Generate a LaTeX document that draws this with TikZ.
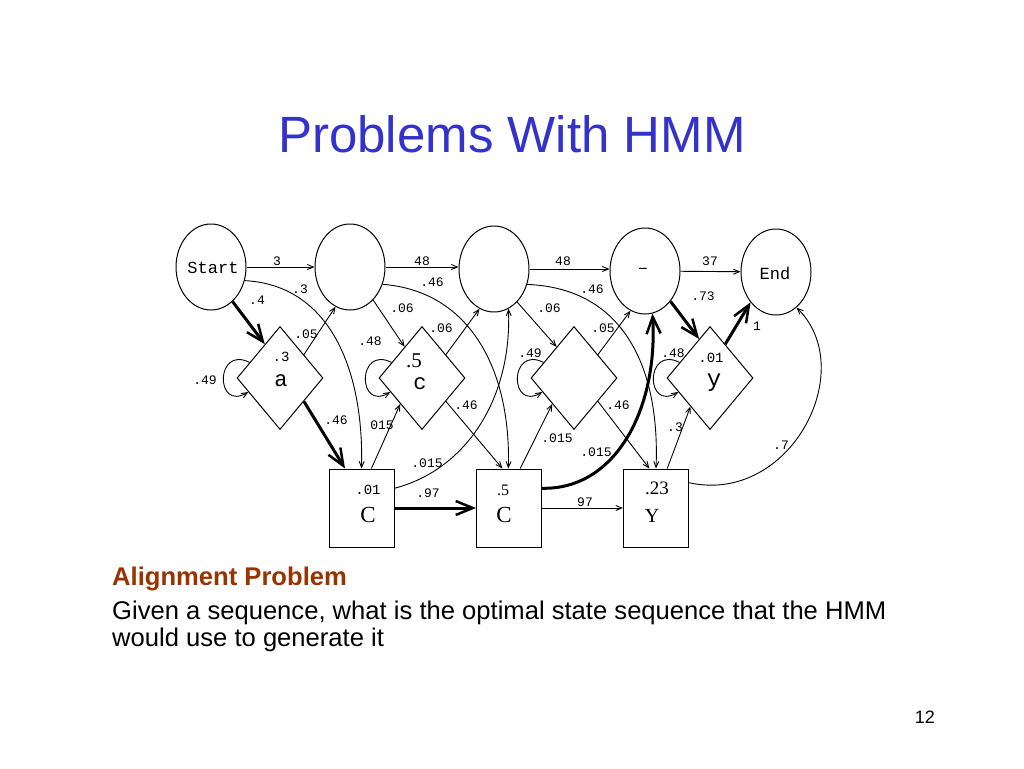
\documentclass[tikz,border=0pt]{standalone}
\usepackage{fontspec}
\setmainfont{Liberation Sans}
\newfontfamily\monof{Liberation Mono}
\newfontfamily\seriff{Liberation Serif}
\usetikzlibrary{shapes.geometric,arrows.meta,calc}
\definecolor{titleblue}{RGB}{51,51,204}
\definecolor{headred}{RGB}{153,51,0}
\begin{document}
\begin{tikzpicture}[x=1pt,y=-1pt,
  state/.style={ellipse,draw,line width=1pt,minimum width=70pt,minimum height=86pt,inner sep=0pt},
  ins/.style={diamond,draw,line width=1pt,minimum width=86pt,minimum height=103pt,inner sep=0pt},
  match/.style={rectangle,draw,line width=1pt,minimum width=65pt,minimum height=78pt,inner sep=0pt},
  thin/.style={line width=0.9pt,-{Straight Barb[length=6pt,width=5pt]}},
  heavy/.style={line width=3pt,-{Straight Barb[length=17pt,width=14pt,line width=2.5pt]}},
  lab/.style={font=\monof\fontsize{13}{13}\selectfont,inner sep=0pt},
  txt/.style={inner sep=0pt},
]
\fill[white] (0,0) rectangle (1024,768);
\useasboundingbox (0,0) rectangle (1024,768);

% text
\node[txt,anchor=base,font=\fontsize{51}{60}\selectfont,text=titleblue] (title) at (512,152) {Problems With HMM};
\node[txt,anchor=base west,font=\bfseries\fontsize{25.6}{30}\selectfont,text=headred] (head) at (112,585) {Alignment Problem};
\node[txt,anchor=base west,font=\fontsize{25.6}{30}\selectfont] (body1) at (112,619) {Given a sequence, what is the optimal state sequence that the HMM};
\node[txt,anchor=base west,font=\fontsize{25.6}{30}\selectfont] (body2) at (112,646) {would use to generate it};
\node[txt,anchor=base east,font=\fontsize{18}{20}\selectfont] (pg) at (935,723) {12};

% states
\node[state] (S) at (211,267) {};
\node[state] (C2) at (350,267) {};
\node[state] (C3) at (494,269) {};
\node[state] (C4) at (645,271) {};
\node[state] (End) at (776,272) {};
\node[ins] (da) at (280,378) {};
\node[ins] (dc) at (422,378) {};
\node[ins] (dd) at (574,378) {};
\node[ins] (dy) at (710,378) {};
\node[match] (sq1) at (361.5,508) {};
\node[match] (sq2) at (509,508) {};
\node[match] (sq3) at (656,508) {};

% state texts
\node[txt,font=\monof\fontsize{17}{17}\selectfont] (tS) at (213,268) {Start};
\node[txt,font=\monof\fontsize{18}{18}\selectfont] (t4) at (643,271) {\symbol{"2013}};
\node[txt,font=\monof\fontsize{17}{17}\selectfont] (tE) at (775,273) {End};
\node[txt,anchor=base,font=\monof\fontsize{14}{14}\selectfont] (ta1) at (281,361) {.3};
\node[txt,anchor=base,font=\monof\fontsize{22}{22}\selectfont] (ta2) at (281,386) {a};
\node[txt,anchor=base,font=\seriff\fontsize{21}{21}\selectfont] (tc1) at (414,367) {.5};
\node[txt,anchor=base,font=\monof\fontsize{22}{22}\selectfont] (tc2) at (420,389) {c};
\node[txt,anchor=base,font=\monof\fontsize{14}{14}\selectfont] (ty1) at (711,362) {.01};
\node[txt,anchor=base,font=\monof\fontsize{24}{24}\selectfont] (ty2) at (714,386) {y};
\node[txt,font=\monof\fontsize{14}{14}\selectfont] (s11) at (368,490) {.01};
\node[txt,font=\seriff\fontsize{23}{23}\selectfont] (s12) at (368,515) {C};
\node[txt,font=\seriff\fontsize{16}{16}\selectfont] (s21) at (503,490) {.5};
\node[txt,font=\seriff\fontsize{23}{23}\selectfont] (s22) at (504,515) {C};
\node[txt,font=\seriff\fontsize{19}{19}\selectfont] (s31) at (657,488) {.23};
\node[txt,font=\seriff\fontsize{20}{20}\selectfont] (s32) at (652,516) {Y};

% horizontal transitions
\draw[thin] (S) -- (C2);
\draw[thin] (C2.east) -- (C2.east -| C3.west);
\draw[thin] (C3.east) -- (C3.east -| C4.west);
\draw[thin] (C4) -- (End);
\draw[heavy] (sq1) -- (sq2);
\draw[thin] (sq2) -- (sq3);

% heavy transitions
\draw[heavy] (S.-58) -- ($(da.north)!0.35!(da.west)$);
\draw[heavy] (C4.-50) -- ($(dy.north)!0.25!(dy.west)$);
\draw[heavy] ($(dy.north)!0.35!(dy.east)$) -- (End.230);
\draw[heavy] ($(da.east)!0.45!(da.south)$) -- ($(sq1.north west)!0.25!(sq1.north east)$);
\draw[heavy] ($(sq2.north east)!0.25!(sq2.south east)$) .. controls (615,490) and (658,410) .. (C4.-80);

% diamond -> next state
\draw[thin] ($(da.north)!0.55!(da.east)$) -- (C2.250);
\draw[thin] ($(dc.north)!0.55!(dc.east)$) -- (C3.250);
\draw[thin] ($(dd.north)!0.55!(dd.east)$) -- (C4.250);
% state -> diamond
\draw[thin] (C2.-55) -- ($(dc.north)!0.4!(dc.west)$);
\draw[thin] (C3.-55) -- ($(dd.north)!0.4!(dd.west)$);
% diamond -> square
\draw[thin] ($(dc.east)!0.45!(dc.south)$) -- ($(sq2.north west)!0.4!(sq2.north east)$);
\draw[thin] ($(dd.east)!0.45!(dd.south)$) -- ($(sq3.north west)!0.4!(sq3.north east)$);
% square -> diamond
\draw[thin] ($(sq1.north west)!0.65!(sq1.north east)$) -- ($(dc.west)!0.5!(dc.south)$);
\draw[thin] ($(sq2.north west)!0.67!(sq2.north east)$) -- ($(dd.west)!0.5!(dd.south)$);
\draw[thin] ($(sq3.north west)!0.67!(sq3.north east)$) -- ($(dy.west)!0.55!(dy.south)$);
% curves
\draw[thin] (S.-22) .. controls (330,285) and (364,370) .. (sq1.north);
\draw[thin] (C2.-28) .. controls (470,291) and (511,370) .. ($(sq2.north west)!0.49!(sq2.north east)$);
\draw[thin] (C3.-25) .. controls (625,288) and (660,370) .. ($(sq3.north west)!0.5!(sq3.north east)$);
\draw[thin] ($(sq1.north east)!0.25!(sq1.south east)$) .. controls (465,470) and (512,400) .. (C3.290);
\draw[thin] ($(sq3.north east)!0.18!(sq3.south east)$) .. controls (790,505) and (860,370) .. (End.-60);
% self loops
\foreach \d in {da,dc,dd,dy}{
  \draw[thin] ($(\d.north)!0.7!(\d.west)$) .. controls ($(\d)+(-65,-33)$) and ($(\d)+(-65,34)$) .. ($(\d.west)!0.27!(\d.south)$);
}

% edge labels
\node[lab] (l01) at (277,261) {3};
\node[lab] (l02) at (300,289) {.3};
\node[lab] (l03) at (257,300) {.4};
\node[lab] (l04) at (306,334) {.05};
\node[lab] (l05) at (205,380) {.49};
\node[lab] (l06) at (336,420) {.46};
\node[lab] (l07) at (382,425) {015};
\node[lab] (l08) at (422,261) {48};
\node[lab] (l09) at (432,282) {.46};
\node[lab] (l10) at (402,308) {.06};
\node[lab] (l11) at (370,341) {.48};
\node[lab] (l12) at (441,328) {.06};
\node[lab] (l13) at (466,405) {.46};
\node[lab] (l14) at (427,463) {.015};
\node[lab] (l15) at (428,493) {.97};
\node[lab] (l16) at (563,261) {48};
\node[lab] (l17) at (592,289) {.46};
\node[lab] (l18) at (549,308) {.06};
\node[lab] (l19) at (603,328) {.05};
\node[lab] (l20) at (530,353) {.49};
\node[lab] (l21) at (618,405) {.46};
\node[lab] (l22) at (557,438) {.015};
\node[lab] (l23) at (596,452) {.015};
\node[lab] (l24) at (585,502) {97};
\node[lab] (l25) at (710,261) {37};
\node[lab] (l26) at (703,296) {.73};
\node[lab] (l27) at (757,326) {1};
\node[lab] (l28) at (673,353) {.48};
\node[lab] (l29) at (675,427) {.3};
\node[lab] (l30) at (781,445) {.7};
\end{tikzpicture}
\end{document}
